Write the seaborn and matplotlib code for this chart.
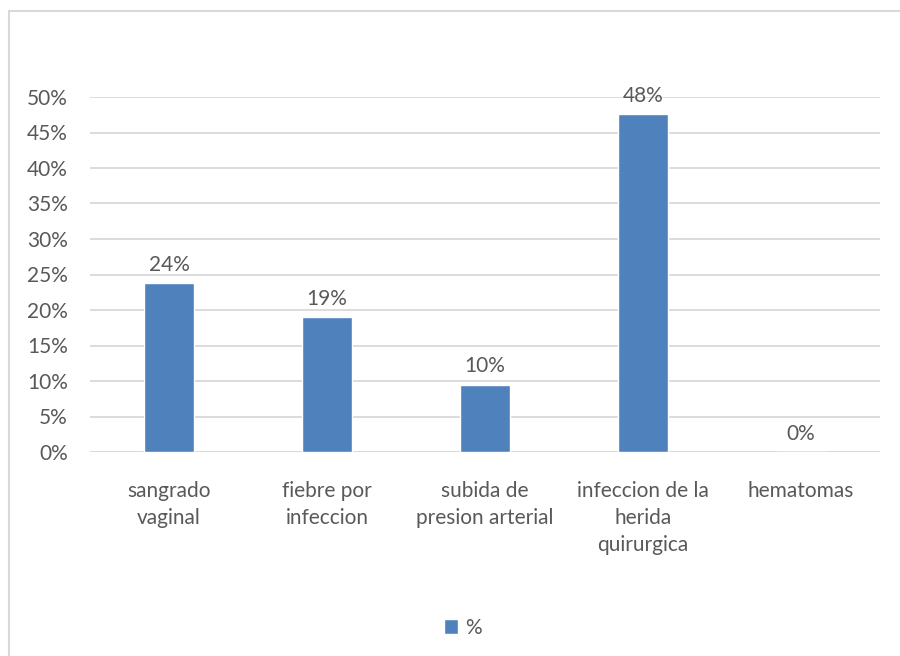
import matplotlib
matplotlib.use("Agg")
import matplotlib.pyplot as plt
from matplotlib.patches import Rectangle
from matplotlib.ticker import PercentFormatter, MultipleLocator
import seaborn as sns
import pandas as pd

categories = [
    "sangrado\nvaginal",
    "fiebre por\ninfeccion",
    "subida de\npresion arterial",
    "infeccion de la\nherida\nquirurgica",
    "hematomas",
]
values = [0.238, 0.190, 0.095, 0.476, 0.0]
series_name = "%"

BAR = "#4f81bd"
TEXT = "#595959"
GRID = "#d9d9d9"
FS = 15

sns.set_theme(style="white")
plt.rcParams["font.family"] = ["Lato", "DejaVu Sans"]

df = pd.DataFrame({"cat": categories, "val": values, "serie": [series_name] * len(values)})

fig = plt.figure(figsize=(9, 6.56), dpi=100)
ax = fig.add_axes([90 / 900, 1 - 452 / 656, 790 / 900, 355 / 656])

sns.barplot(data=df, x="cat", y="val", hue="serie", palette=[BAR],
            width=0.316, ax=ax, saturation=1, legend=True)

ax.set_ylim(0, 0.5)
ax.yaxis.set_major_locator(MultipleLocator(0.05))
ax.yaxis.set_major_formatter(PercentFormatter(1.0, decimals=0))
ax.grid(axis="y", color=GRID, lw=1.3)
ax.set_axisbelow(True)
for s in ax.spines.values():
    s.set_visible(False)
ax.axhline(0, color=GRID, lw=1.3, zorder=0.5)
ax.set_xlabel("")
ax.set_ylabel("")
ax.tick_params(axis="y", length=0, pad=16, labelsize=FS, labelcolor=TEXT)
ax.tick_params(axis="x", length=0, pad=21, labelsize=FS, labelcolor=TEXT)
for lbl in ax.get_xticklabels():
    lbl.set_linespacing(1.42)
    lbl.set_verticalalignment("top")

for c in ax.containers:
    ax.bar_label(c, labels=[f"{v*100:.0f}%" for v in values], padding=6,
                 fontsize=FS, color=TEXT)

leg = ax.legend(loc="center", bbox_to_anchor=(0.514, 1 - 628 / 656),
                bbox_transform=fig.transFigure,
                frameon=False, fontsize=FS, handlelength=0.7, handleheight=0.7,
                handletextpad=0.3)
for t in leg.get_texts():
    t.set_color(TEXT)

fig.patches.append(Rectangle((8.5 / 900, -0.05), 1.2, 1.05 - 11 / 656,
                             transform=fig.transFigure, fill=False,
                             edgecolor=GRID, lw=1.5, zorder=0))

fig.savefig("out.png", dpi=100, facecolor="white")
